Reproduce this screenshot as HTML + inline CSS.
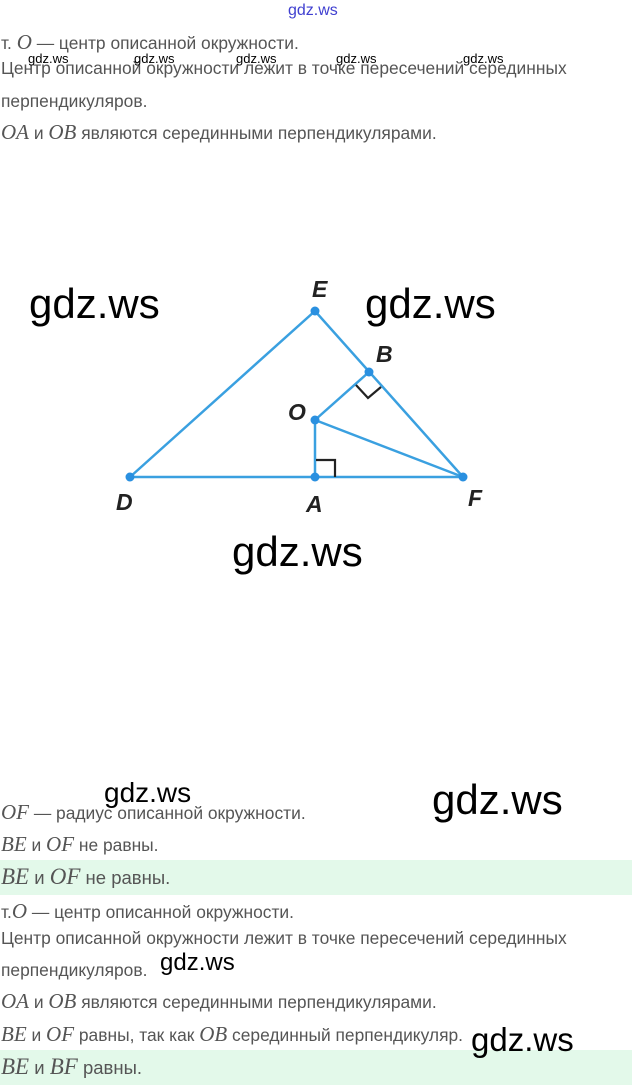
<!DOCTYPE html>
<html><head><meta charset="utf-8"><style>
body{margin:0;width:632px;height:1085px;background:#fff;position:relative;overflow:hidden;font-family:"Liberation Sans","DejaVu Sans",sans-serif;color:#555}
.t{position:absolute;left:1px;font-size:17.4px;white-space:nowrap;line-height:20px}
.m{font-family:"Liberation Serif",serif;font-style:italic;font-size:21px;color:#555}
.w{position:absolute;font-family:"Liberation Sans",sans-serif;color:#000;white-space:nowrap}
.s{font-size:13px}
.g{position:absolute;left:0;width:632px;background:#e3f9ea}
</style></head><body>
<div class="w" style="left:288px;top:2px;font-size:16px;color:#4040d0">gdz.ws</div>
<div class="t" style="top:32px">т. <span class="m">O</span> — центр описанной окружности.</div>
<div class="t" style="top:58px">Центр описанной окружности лежит в точке пересечений серединных</div>
<div class="w s" style="left:28px;top:51px">gdz.ws</div>
<div class="w s" style="left:134px;top:51px">gdz.ws</div>
<div class="w s" style="left:236px;top:51px">gdz.ws</div>
<div class="w s" style="left:336px;top:51px">gdz.ws</div>
<div class="w s" style="left:463px;top:51px">gdz.ws</div>
<div class="t" style="top:91px">перпендикуляров.</div>
<div class="t" style="top:122px"><span class="m">OA</span> и <span class="m">OB</span> являются серединными перпендикулярами.</div>

<div class="w" style="left:29px;top:280px;font-size:42px">gdz.ws</div>
<div class="w" style="left:365px;top:280px;font-size:42px">gdz.ws</div>
<div class="w" style="left:232px;top:528px;font-size:42px">gdz.ws</div>

<svg style="position:absolute;left:0;top:0" width="632" height="600">
<g stroke="#3aa0e0" stroke-width="2.5" fill="none">
<polyline points="130,477 315,311 463,477 130,477"/>
<line x1="315" y1="420" x2="369" y2="372"/>
<line x1="315" y1="420" x2="315" y2="477"/>
<line x1="315" y1="420" x2="463" y2="477"/>
</g>
<g stroke="#222" stroke-width="2.2" fill="none">
<polyline points="316,460 335,460 335,477"/>
<polyline points="356,385 368,398 381,387"/>
</g>
<g fill="#2a90e0">
<circle cx="130" cy="477" r="4.5"/><circle cx="315" cy="311" r="4.5"/><circle cx="369" cy="372" r="4.5"/>
<circle cx="315" cy="420" r="4.5"/><circle cx="315" cy="477" r="4.5"/><circle cx="463" cy="477" r="4.5"/>
</g>
<g font-family="Liberation Sans,sans-serif" font-style="italic" font-weight="bold" font-size="23" fill="#222">
<text x="312" y="297">E</text><text x="376" y="362">B</text><text x="288" y="420">O</text>
<text x="116" y="510">D</text><text x="306" y="512">A</text><text x="468" y="506">F</text>
</g>
</svg>

<div class="g" style="top:860px;height:35px"></div>
<div class="g" style="top:1050px;height:35px"></div>
<div class="t" style="top:802px"><span class="m">OF</span> — радиус описанной окружности.</div>
<div class="t" style="top:834px"><span class="m">BE</span> и <span class="m">OF</span> не равны.</div>
<div class="t" style="top:867px;font-size:18.5px"><span class="m" style="font-size:23px">BE</span> и <span class="m" style="font-size:23px">OF</span> не равны.</div>
<div class="t" style="top:901px">т.<span class="m">O</span> — центр описанной окружности.</div>
<div class="t" style="top:928px">Центр описанной окружности лежит в точке пересечений серединных</div>
<div class="t" style="top:960px">перпендикуляров.</div>
<div class="t" style="top:991px"><span class="m">OA</span> и <span class="m">OB</span> являются серединными перпендикулярами.</div>
<div class="t" style="top:1024px"><span class="m">BE</span> и <span class="m">OF</span> равны, так как <span class="m">OB</span> серединный перпендикуляр.</div>
<div class="t" style="top:1057px;font-size:18.5px"><span class="m" style="font-size:23px">BE</span> и <span class="m" style="font-size:23px">BF</span> равны.</div>
<div class="w" style="left:104px;top:777px;font-size:28px">gdz.ws</div>
<div class="w" style="left:432px;top:776px;font-size:42px">gdz.ws</div>
<div class="w" style="left:160px;top:949px;font-size:24px">gdz.ws</div>
<div class="w" style="left:471px;top:1021px;font-size:33px">gdz.ws</div>
</body></html>
